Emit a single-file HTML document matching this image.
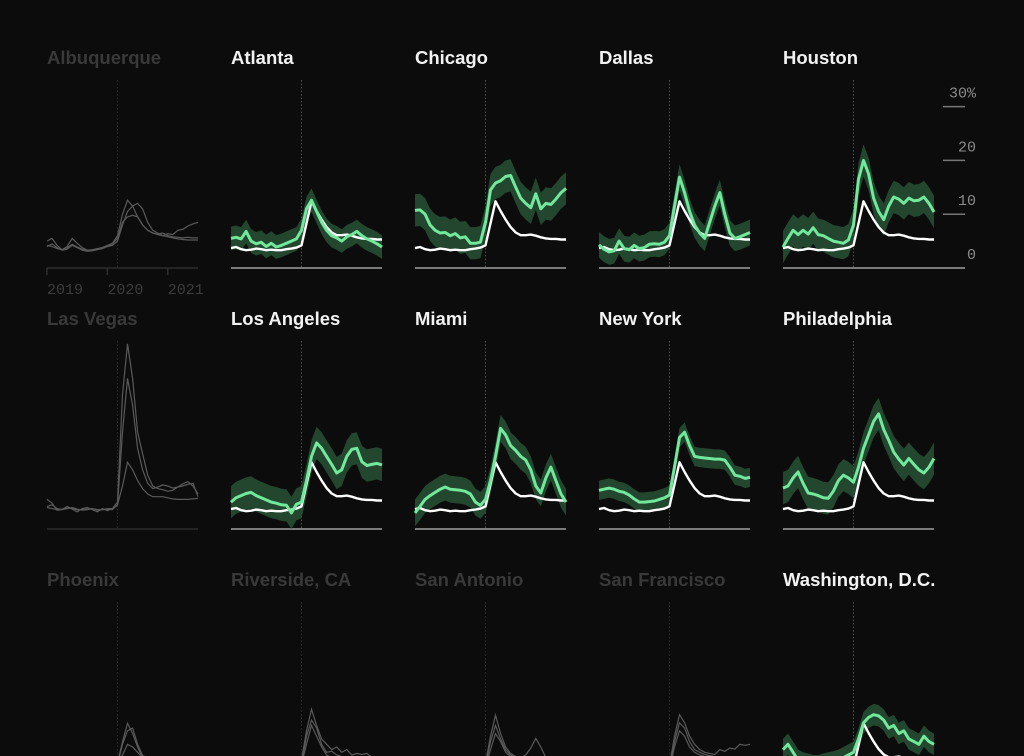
<!DOCTYPE html>
<html><head><meta charset="utf-8"><style>
html,body{margin:0;padding:0;background:#0c0c0c;}
svg{display:block;}
</style></head><body>
<svg id="chart" width="1024" height="756" viewBox="0 0 1024 756" xmlns="http://www.w3.org/2000/svg">
<rect width="1024" height="756" fill="#0c0c0c"/>
</svg>
<script>
// ---- data (percent values, monthly Jan 2019 .. Jul 2021) ----
const cities = ["Albuquerque","Atlanta","Chicago","Dallas","Houston","Las Vegas","Los Angeles","Miami","New York","Philadelphia","Phoenix","Riverside, CA","San Antonio","San Francisco","Washington, D.C."];
const highlighted = [false,true,true,true,true,false,true,true,true,true,false,false,false,false,true];
const national = [3.7,3.9,3.5,3.3,3.4,3.6,3.5,3.3,3.4,3.3,3.3,3.5,3.6,3.8,4.2,8.3,12.4,10.6,9.0,7.6,6.6,6.1,6.1,6.2,6.0,5.7,5.5,5.4,5.4,5.3,5.3];
const atlanta = [5.5,5.7,5.4,6.8,5.0,4.5,4.8,4.0,4.6,3.9,4.2,4.6,5.0,5.4,7.0,11.0,12.6,10.5,8.5,7.0,6.0,5.6,5.0,5.8,6.2,6.8,6.0,5.4,5.0,4.5,3.9];
const chicago = [10.7,10.8,10.0,8.0,7.0,6.5,6.6,6.0,6.4,5.6,5.8,4.6,4.6,4.8,8.5,14.5,15.8,16.2,17.0,17.2,15.0,13.0,12.0,11.2,13.8,11.0,12.0,11.8,12.8,14.0,14.8];
const dallas = [4.3,3.5,3.0,3.2,5.0,3.6,3.4,4.2,3.6,3.8,4.4,4.5,4.4,4.8,6.0,11.5,16.9,14.0,10.5,8.0,6.5,5.5,8.5,11.5,14.0,10.0,6.5,5.5,5.8,6.2,6.6];
const houston = [3.9,5.5,7.0,6.2,7.0,6.3,7.5,6.2,6.0,5.5,5.0,4.8,4.6,5.2,8.0,16.5,20.0,17.5,13.0,10.5,9.0,11.5,13.2,12.8,12.0,13.0,12.5,12.6,13.2,12.0,10.4];
const losAngeles = [5.0,5.8,6.2,6.6,6.8,6.2,5.8,5.4,5.0,4.8,4.5,4.4,3.0,4.6,5.0,9.0,13.5,16.0,15.0,13.5,12.0,10.4,11.0,13.5,14.8,15.0,12.5,11.8,12.0,12.2,11.9];
const miami = [3.0,4.2,5.5,6.2,6.8,7.4,7.8,7.4,7.3,7.2,7.0,6.5,5.0,4.4,5.5,9.0,13.5,18.7,17.5,15.5,14.6,13.5,12.8,11.0,8.0,6.7,9.5,11.5,9.0,6.5,5.0];
const newYork = [7.2,7.4,7.6,7.4,7.0,6.8,6.3,5.6,5.0,5.0,5.1,5.2,5.5,5.8,6.3,11.5,17.0,18.0,15.5,13.5,13.3,13.2,13.1,13.0,13.0,12.8,11.5,10.0,9.8,9.4,9.6];
const philadelphia = [7.6,8.0,9.5,10.6,8.5,6.7,6.5,6.2,5.8,5.7,7.0,9.0,10.0,9.5,8.7,11.5,15.0,17.5,20.0,21.4,18.5,16.5,14.3,13.0,11.9,13.1,12.0,11.0,10.4,11.5,13.1];
const washington = [7.5,8.5,7.0,5.5,5.0,4.8,4.5,4.5,4.8,5.0,5.2,5.5,6.0,6.5,7.0,9.5,12.5,13.5,14.0,13.8,13.0,11.5,12.0,10.5,11.0,9.5,9.0,8.5,10.0,9.0,8.5];
const bandHalf = [0,2.2,3.0,2.4,3.0,0,3.0,2.5,1.8,3.0,0,0,0,0,2.0];
const abq1 = [5.0,5.5,4.2,3.4,4.0,5.5,4.6,3.8,3.3,3.2,3.5,3.8,4.2,4.6,6.0,10.0,12.6,11.5,9.5,8.0,7.0,6.5,6.2,6.0,6.4,6.2,7.0,7.2,7.8,8.2,8.5];
const abq2 = [4.0,4.5,3.8,3.3,3.5,4.2,3.8,3.3,3.1,3.2,3.4,3.6,4.0,4.2,5.0,8.0,10.5,11.5,12.0,11.0,8.5,7.0,6.5,6.0,5.8,5.6,5.4,5.3,5.2,5.2,5.2];
const abq3 = [4.2,4.0,3.6,3.4,3.8,4.4,3.9,3.5,3.3,3.4,3.6,3.8,4.0,4.5,5.5,8.5,9.5,9.8,9.5,8.0,7.0,6.5,6.3,6.5,6.0,5.8,5.7,5.6,5.7,5.6,5.6];
const lv1 = [5.5,4.8,3.5,3.6,4.2,3.7,3.2,3.8,4.0,3.6,3.2,3.8,3.4,3.8,5.0,25.0,34.4,28.0,18.0,14.0,10.0,8.0,7.5,7.3,7.0,7.2,7.8,8.0,8.3,8.5,6.0];
const lv2 = [4.2,4.5,3.8,3.6,3.8,4.0,3.7,3.5,3.6,3.8,3.5,3.6,3.7,3.6,4.5,18.0,28.0,23.0,15.0,11.0,8.5,7.5,7.8,8.2,8.0,7.6,7.8,8.4,8.8,8.0,6.5];
const lv3 = [4.0,3.8,3.6,3.7,3.9,3.8,3.6,3.6,3.7,3.8,3.6,3.6,3.8,3.8,4.5,8.0,12.4,11.0,9.0,7.5,6.5,6.0,6.0,6.0,5.8,5.6,5.5,5.5,5.5,5.6,5.7];
const phx1 = [4.0,3.8,3.6,3.5,3.6,3.7,3.5,3.4,3.5,3.6,3.5,3.6,3.8,4.0,5.0,9.0,12.4,10.5,8.0,6.0,5.5,5.2,5.0,5.0,4.8,4.6,4.5,4.4,4.4,4.3,4.3];
const phx2 = [3.8,3.6,3.5,3.4,3.5,3.6,3.4,3.3,3.4,3.5,3.4,3.5,3.6,3.8,4.8,8.5,11.0,11.5,8.5,6.4,6.0,6.1,6.0,5.5,5.0,4.8,4.6,4.5,4.4,4.4,4.3];
const phx3 = [3.6,3.5,3.4,3.3,3.4,3.5,3.3,3.2,3.3,3.4,3.3,3.4,3.5,3.7,4.5,6.5,8.5,8.0,7.0,6.0,5.0,4.6,4.4,4.2,4.0,3.9,3.8,3.8,3.7,3.7,3.6];
const riv1 = [4.5,4.3,4.2,4.0,4.1,4.2,4.0,3.9,4.0,4.1,4.0,4.1,4.2,4.4,5.5,11.0,15.0,12.0,9.5,8.5,7.5,8.0,7.0,7.5,6.5,6.8,6.6,6.8,6.0,5.5,5.2];
const riv2 = [4.2,4.0,3.9,3.8,3.9,4.0,3.8,3.7,3.8,3.9,3.8,3.9,4.0,4.2,5.0,10.0,13.0,11.5,8.5,7.0,7.2,6.5,6.2,6.0,5.6,5.5,5.4,5.3,5.2,5.2,5.1];
const riv3 = [4.0,3.8,3.7,3.6,3.7,3.8,3.6,3.5,3.6,3.7,3.6,3.7,3.8,4.0,4.8,8.5,12.0,10.0,8.0,6.5,6.0,5.5,5.3,5.2,5.0,4.9,4.8,4.8,4.7,4.7,4.6];
const sa1 = [4.0,3.9,3.7,3.6,3.7,3.8,3.6,3.5,3.6,3.7,3.6,3.7,3.8,4.0,5.0,10.0,13.9,10.5,8.0,6.8,6.2,6.0,6.5,7.8,9.6,8.0,6.0,5.5,5.2,5.0,4.9];
const sa2 = [3.8,3.7,3.5,3.4,3.5,3.6,3.4,3.3,3.4,3.5,3.4,3.5,3.6,3.8,4.6,9.0,12.0,9.5,7.5,6.5,6.0,5.8,5.6,5.5,5.4,5.3,5.2,5.1,5.0,5.0,4.9];
const sa3 = [3.6,3.5,3.4,3.3,3.4,3.5,3.3,3.2,3.3,3.4,3.3,3.4,3.5,3.7,4.3,7.5,10.5,9.0,7.0,6.2,5.8,5.5,5.3,5.2,5.1,5.0,4.9,4.9,4.8,4.8,4.7];
const sf1 = [3.5,3.4,3.3,3.2,3.3,3.4,3.2,3.1,3.2,3.3,3.2,3.3,3.4,3.6,4.5,10.0,14.0,12.5,10.0,8.5,7.5,7.0,6.8,6.6,7.5,7.2,7.8,7.6,8.5,8.3,8.5];
const sf2 = [3.3,3.2,3.1,3.0,3.1,3.2,3.0,2.9,3.0,3.1,3.0,3.1,3.2,3.4,4.2,9.0,12.5,11.5,9.0,7.5,7.0,6.6,6.4,6.2,6.0,5.8,6.0,6.2,5.8,5.6,5.5];
const sf3 = [3.2,3.1,3.0,2.9,3.0,3.1,2.9,2.8,2.9,3.0,2.9,3.0,3.1,3.3,4.0,8.0,11.0,10.0,8.0,7.0,6.5,6.2,6.0,5.8,5.6,5.5,5.4,5.3,5.3,5.2,5.2];
const greenSeries = [null,atlanta,chicago,dallas,houston,null,losAngeles,miami,newYork,philadelphia,null,null,null,null,washington];
const graySeries = [[abq1,abq2,abq3],[],[],[],[],[lv1,lv2,lv3],[],[],[],[],[phx1,phx2,phx3],[riv1,riv2,riv3],[sa1,sa2,sa3],[sf1,sf2,sf3],[]];
const yTicks = [0,10,20,30];
const yTickLabels = ["0","10","20","30%"];
const yearTicks = [0,12,24];
const yearLabels = ["2019","2020","2021"];
const covidIndex = 14;

// ---- layout ----
const NS = "http://www.w3.org/2000/svg";
const svg = document.getElementById("chart");
const colX = [47,231,415,599,783];
const rowBase = [268,529,790];
const panelW = 151, pxPerPct = 5.38, nPts = national.length;
function xScale(col, i){ return colX[col] + i * panelW / (nPts - 1); }
function yScale(row, v){ return rowBase[row] - v * pxPerPct; }
function mk(tag, attrs, parent){
  const e = document.createElementNS(NS, tag);
  for (const k in attrs) e.setAttribute(k, attrs[k]);
  (parent || svg).appendChild(e);
  return e;
}
function linePath(col,row,arr){
  return arr.map((v,i)=>(i?"L":"M")+xScale(col,i).toFixed(1)+","+yScale(row,v).toFixed(1)).join("");
}

cities.forEach((name, k) => {
  const col = k % 5, row = Math.floor(k / 5), on = highlighted[k];
  const g = mk("g", {});
  
  
  const t = mk("text", {x: colX[col], y: rowBase[row] - 204, fill: on ? "#f2f2f2" : "#393939",
    "font-family": "Liberation Sans, sans-serif", "font-weight": "bold", "font-size": "18.5"}, g);
  t.textContent = name;
  
  
  const cx = xScale(col, covidIndex);
  const d = mk("line", {x1: cx, x2: cx, y1: rowBase[row] - 188, y2: rowBase[row], stroke: on ? "#555" : "#2e2e2e",
    "stroke-width": 1, "stroke-dasharray": "1.5,2"}, g);
  
  
  const bl = mk("line", {x1: colX[col], x2: colX[col] + panelW + (k === 4 ? 31 : 0), y1: rowBase[row], y2: rowBase[row],
    stroke: on ? "#7a7a7a" : "#2c2c2c", "stroke-width": on ? 2 : 1.5}, g);
  
  
  graySeries[k].forEach(arr => {
    const p = mk("path", {d: linePath(col,row,arr), fill: "none", stroke: "#5a5a5a", "stroke-width": 1.2}, g);
    
    
  });
  const gs = greenSeries[k];
  if (gs) {
    const h = bandHalf[k];
    let dd = gs.map((v,i)=>(i?"L":"M")+xScale(col,i).toFixed(1)+","+yScale(row,v+h).toFixed(1)).join("");
    for (let i = nPts - 1; i >= 0; i--) dd += "L" + xScale(col,i).toFixed(1) + "," + yScale(row, Math.max(0, gs[i]-h)).toFixed(1);
    const band = mk("path", {d: dd + "Z", fill: "#2b5a3a", opacity: 0.75}, g);
    
    
    const w = mk("path", {d: linePath(col,row,national), fill: "none", stroke: "#ffffff", "stroke-width": 2.4, "stroke-linejoin": "round"}, g);
    
    
    const gl = mk("path", {d: linePath(col,row,gs), fill: "none", stroke: "#72e89c", "stroke-width": 3, "stroke-linejoin": "round"}, g);
    
    
  }
});

yTicks.forEach((v, i) => {
  const y = yScale(0, v);
  if (v !== 0) {
    const l = mk("line", {x1: 943, x2: 965, y1: y, y2: y, stroke: "#777", "stroke-width": 1.5});
    
    
  }
  const t = mk("text", {x: 976, y: y - 9, "text-anchor": "end", fill: "#8a8a8a",
    "font-family": "Liberation Mono, monospace", "font-size": "15"});
  t.textContent = yTickLabels[i];
  
  
});
yearTicks.forEach((m, i) => {
  const x = xScale(0, m);
  const l = mk("line", {x1: x, x2: x, y1: 268, y2: 275, stroke: "#2f2f2f", "stroke-width": 1.5});
  
  
  const t = mk("text", {x: x, y: 294, fill: "#3c3c3c", "font-family": "Liberation Mono, monospace", "font-size": "15"});
  t.textContent = yearLabels[i];
  
  
});
</script>
</body></html>
